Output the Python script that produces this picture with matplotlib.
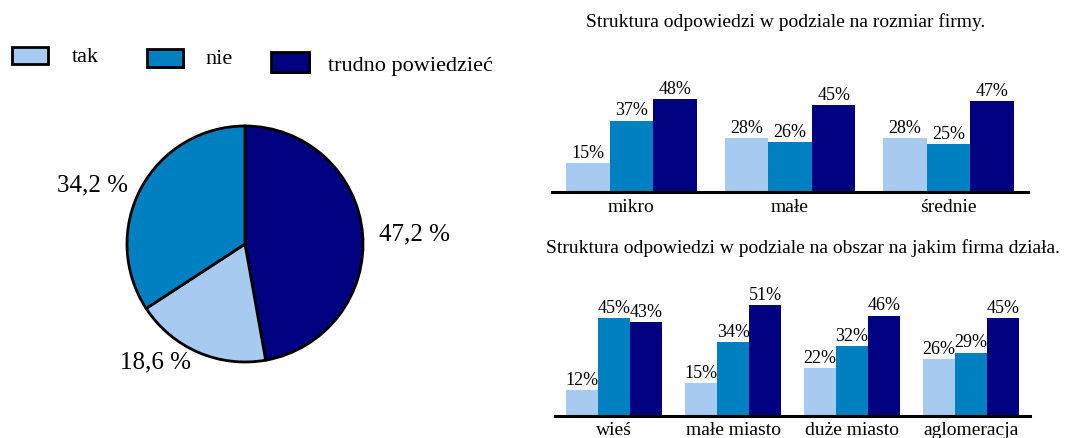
import matplotlib
matplotlib.use("Agg")
import matplotlib.pyplot as plt
from matplotlib.patches import Rectangle
import numpy as np

# ---- data ----
series_names = ["tak", "nie", "trudno powiedzieć"]
pie_values = [18.6, 34.2, 47.2]  # tak, nie, trudno

size_categories = ["mikro", "małe", "średnie"]
size_tak = [15, 28, 28]
size_nie = [37, 26, 25]
size_trudno = [48, 45, 47]

area_categories = ["wieś", "małe miasto", "duże miasto", "aglomeracja"]
area_tak = [12, 15, 22, 26]
area_nie = [45, 34, 32, 29]
area_trudno = [43, 51, 46, 45]

title_size = "Struktura odpowiedzi w podziale na rozmiar firmy."
title_area = "Struktura odpowiedzi w podziale na obszar na jakim firma działa."

colors = ["#A6CAF0", "#0080C0", "#000080"]

plt.rcParams['font.family'] = ['Liberation Serif', 'DejaVu Serif']

W, H = 1066, 438
fig = plt.figure(figsize=(W / 100, H / 100), dpi=100)


def px_axes(x0, y0, x1, y1):
    return fig.add_axes([x0 / W, 1 - y1 / H, (x1 - x0) / W, (y1 - y0) / H])


# ---- legend ----
leg_boxes = [(12, 47, 48, 64), (147, 49, 183, 67), (271, 52, 309, 72)]
leg_text = [(72, 57), (205, 60), (328, 67)]
for (bx0, by0, bx1, by1), (tx, ty), c, name in zip(leg_boxes, leg_text, colors, series_names):
    # shadow
    fig.patches.append(Rectangle(((bx0 + 2) / W, 1 - (by1 + 2) / H), (bx1 - bx0) / W, (by1 - by0) / H,
                                 transform=fig.transFigure, facecolor=c, edgecolor="none"))
    fig.patches.append(Rectangle((bx0 / W, 1 - by1 / H), (bx1 - bx0) / W, (by1 - by0) / H,
                                 transform=fig.transFigure, facecolor=c, edgecolor="black", lw=2))
    fig.text(tx / W, 1 - ty / H, name, fontsize=16, va="center", ha="left")

# ---- pie ----
axp = px_axes(127, 126, 363, 362)
order = [2, 0, 1]  # trudno, tak, nie clockwise from top
vals = [pie_values[i] for i in order]
cols = [colors[i] for i in order]
axp.pie(vals, colors=cols, startangle=90, counterclock=False,
        wedgeprops=dict(edgecolor="black", linewidth=2), radius=1)
axp.set_xlim(-1, 1)
axp.set_ylim(-1, 1)
axp.set_aspect("equal")
axp.axis("off")
label_pos = {2: (1.44, 0.085), 0: (-0.76, -1.0), 1: (-1.29, 0.50)}
for i in order:
    txt = f"{pie_values[i]:.1f}".replace(".", ",") + " %"
    x, y = label_pos[i]
    axp.text(x, y, txt, fontsize=18, ha="center", va="center", clip_on=False)


def bar_chart(ax, cats, series, width, ymax, labpad):
    x = np.arange(len(cats))
    for j, (vals, c) in enumerate(zip(series, colors)):
        pos = x + (j - 1) * width
        ax.bar(pos, vals, width=width, color=c, edgecolor="none", zorder=2)
        for p, v in zip(pos, vals):
            ax.text(p, v + 0.6, f"{v}%", ha="center", va="bottom", fontsize=13, clip_on=False)
    ax.set_xlim(-0.5, len(cats) - 0.5)
    ax.set_ylim(0, ymax)
    for s in ["top", "left", "right"]:
        ax.spines[s].set_visible(False)
    ax.spines["bottom"].set_linewidth(2.2)
    ax.spines["bottom"].set_zorder(3)
    ax.set_yticks([])
    ax.set_xticks(x)
    ax.set_xticklabels(cats, fontsize=14)
    ax.tick_params(axis="x", length=0, pad=labpad)
    ax.patch.set_alpha(0)


ax1 = px_axes(552, 80, 1028, 192)
bar_chart(ax1, size_categories, [size_tak, size_nie, size_trudno], 0.275, 112 / 1.93, 5)
fig.text(786 / W, 1 - 22 / H, title_size, ha="center", va="center", fontsize=14)

ax2 = px_axes(555, 300, 1030, 416)
bar_chart(ax2, area_categories, [area_tak, area_nie, area_trudno], 0.27, 116 / 2.18, 4)
fig.text(803 / W, 1 - 248 / H, title_area, ha="center", va="center", fontsize=14)

fig.savefig("out.png", dpi=100)
